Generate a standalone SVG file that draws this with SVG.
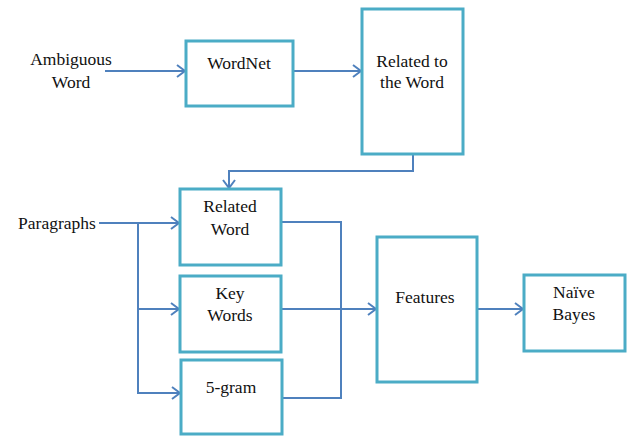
<svg xmlns="http://www.w3.org/2000/svg" width="628" height="436" viewBox="0 0 628 436">
<defs>
<style>
.box{fill:#fff;stroke:#4BACC6;stroke-width:3}
.ln{fill:none;stroke:#4F81BD;stroke-width:2}
.t{font-family:'Liberation Serif','DejaVu Serif',serif;font-size:17.5px;fill:#111;text-anchor:middle}
</style>
<marker id="arr" markerWidth="12" markerHeight="14" refX="10" refY="7" orient="auto" markerUnits="userSpaceOnUse">
<path d="M2,1 L10,7 L2,13" fill="none" stroke="#4F81BD" stroke-width="2"/>
</marker>
</defs>
<rect width="628" height="436" fill="#fff"/>
<g id="connectors">
<path class="ln" d="M105,71 H185" marker-end="url(#arr)"/>
<path class="ln" d="M293,71 H361" marker-end="url(#arr)"/>
<path class="ln" d="M413,154 V171 H229 V188" marker-end="url(#arr)"/>
<path class="ln" d="M99,223 H179" marker-end="url(#arr)"/>
<path class="ln" d="M138,223 V393 H180" marker-end="url(#arr)"/>
<path class="ln" d="M138,309 H179" marker-end="url(#arr)"/>
<path class="ln" d="M281,222 H341 V398 H282"/>
<path class="ln" d="M281,309 H376" marker-end="url(#arr)"/>
<path class="ln" d="M477,309 H523" marker-end="url(#arr)"/>
</g>
<g id="ambiguous" class="t" font-family="Liberation Serif, serif">
<text x="71" y="65">Ambiguous</text>
<text x="71" y="88">Word</text>
</g>
<g id="wordnet">
<rect class="box" x="186" y="41" width="107" height="65"/>
<text class="t" x="239" y="69">WordNet</text>
</g>
<g id="related-to-word">
<rect class="box" x="362" y="9" width="101" height="145"/>
<text class="t" x="412" y="67">Related to</text>
<text class="t" x="412" y="88">the Word</text>
</g>
<g id="paragraphs">
<text class="t" x="57" y="229">Paragraphs</text>
</g>
<g id="related-word">
<rect class="box" x="180" y="189" width="101" height="76"/>
<text class="t" x="230" y="212">Related</text>
<text class="t" x="230" y="235">Word</text>
</g>
<g id="key-words">
<rect class="box" x="180" y="276" width="101" height="76"/>
<text class="t" x="230" y="299">Key</text>
<text class="t" x="230" y="321">Words</text>
</g>
<g id="five-gram">
<rect class="box" x="181" y="360" width="101" height="74"/>
<text class="t" x="231" y="393">5-gram</text>
</g>
<g id="features">
<rect class="box" x="377" y="237" width="100" height="145"/>
<text class="t" x="425" y="303">Features</text>
</g>
<g id="naive-bayes">
<rect class="box" x="524" y="275" width="101" height="76"/>
<text class="t" x="574" y="298">Naïve</text>
<text class="t" x="574" y="320">Bayes</text>
</g>
</svg>
